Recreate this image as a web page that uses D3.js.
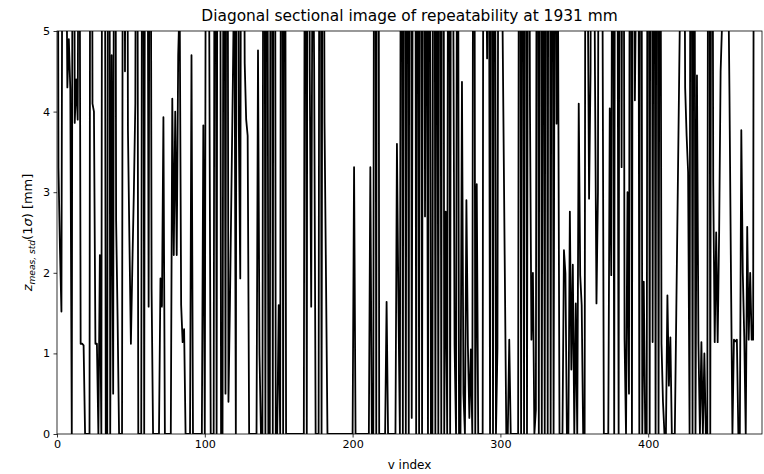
<!DOCTYPE html>
<html>
<head>
<meta charset="utf-8">
<script src="https://cdn.jsdelivr.net/npm/d3@7"></script>
<style>
  body { margin: 0; background: #fff; }
  svg { display: block; }
  text { font-family: "DejaVu Sans", sans-serif; fill: #000; }
</style>
</head>
<body>
<svg id="chart" width="764" height="474"></svg>
<script>
// Chart text and ticks
const chartTitle = "Diagonal sectional image of repeatability at 1931 mm";
const xLabel = "v index";
const xTicks = [0, 100, 200, 300, 400];
const yTicks = [0, 1, 2, 3, 4, 5];
const xMax = 477;
const yMax = 5;

// Standard deviation of measured z per v index [mm]; values above 5 run off the top
const zStd = [
  12, 3.3, 2.3, 1.52, 10, 18, 7, 4.3, 4.9, 4.28,
  0, 15, 3.86, 4.4, 3.9, 9, 1.12, 1.12, 1.1, 0,
  0, 0, 0, 16, 4.1, 4.0, 1.12, 1.12, 0, 2.22,
  0, 14, 12, 0, 0, 15, 0, 4.7, 0.5, 13,
  2.65, 1.43, 0, 0, 0, 14, 4.5, 12, 3.77, 2.4,
  1.12, 2.1, 3.0, 4.1, 12, 0, 0, 0, 13, 0,
  14, 9, 1.58, 11, 1.8, 0, 0, 0, 0, 0,
  1.93, 1.58, 3.93, 0, 0, 0, 0, 0, 4.16, 2.22,
  4.0, 2.22, 4.7, 5.4, 1.6, 1.14, 1.3, 0, 0, 0,
  0, 4.7, 0, 0, 0, 0, 0, 0, 0, 3.83,
  0, 10, 5.2, 5.1, 0, 0, 0, 12, 0, 14,
  13, 0, 0, 11, 0.5, 13, 0.4, 1.6, 3.0, 4.4,
  6, 0, 15, 3.83, 1.93, 12, 9, 4.6, 3.9, 3.7,
  0, 0, 0, 0, 0, 0, 4.76, 1.0, 0, 0,
  13, 0, 12, 0, 0, 15, 0, 17, 0, 0,
  1.6, 0, 14, 0, 12, 0, 0, 0, 0, 0,
  0, 0, 0, 0, 0, 0, 0, 0, 11, 0,
  16, 4.53, 1.58, 7, 4.53, 0, 0, 0, 15, 0,
  12, 3.87, 1.95, 0, 0, 0, 0, 0, 0, 0,
  0, 0, 0, 0, 0, 0, 0, 0, 0, 0,
  0, 3.31, 0, 0, 0, 0, 0, 0, 0, 0,
  0, 0, 3.31, 0, 0, 14, 0, 20, 0, 0,
  0, 0, 0, 1.64, 0, 0, 0, 0, 0, 0,
  3.6, 1.62, 0, 12, 0, 15, 0, 12, 0, 18,
  0.2, 9, 14, 0, 11, 0, 16, 0, 13, 2.7,
  8, 0, 12, 0, 0, 15, 0, 10, 0, 14,
  0, 18, 0, 2.76, 0, 12, 0, 14, 6, 1.1,
  0, 11, 0, 0, 4.37, 0.5, 0, 2.9, 1.1, 0.2,
  1.05, 0, 13, 0, 3.1, 0, 0, 0, 0, 16,
  7, 4.66, 9, 0, 14, 0, 12, 0, 1.06, 11,
  8, 6, 4.0, 2.0, 0, 0, 1.17, 0, 0, 0,
  0, 0, 0, 14, 0, 12, 0, 15, 0, 11,
  4.08, 1.17, 2.0, 0, 0.3, 13, 0, 16, 0, 10,
  0, 14, 0, 18, 0, 12, 0, 9, 3.85, 5.3,
  0, 0, 0, 2.28, 1.99, 0, 0, 2.76, 0.8, 2.1,
  0, 1.62, 0, 4.1, 1.97, 1.6, 0, 0, 14, 6,
  2.92, 4.5, 13, 8, 4.45, 1.62, 3.0, 13, 9, 6,
  0, 0, 0, 0, 4.04, 1.97, 10, 0, 15, 8,
  0, 14, 3.31, 12, 1.19, 0, 3.0, 0.5, 13, 0,
  14, 4.14, 6, 12, 0, 15, 0, 1.89, 0, 0,
  14, 0, 16, 1.14, 11, 0, 13, 0, 10, 1.12,
  0.4, 0, 0, 1.72, 0.6, 1.2, 0, 0, 0, 1.5,
  3.0, 4.5, 6, 7, 9, 4.3, 3.7, 3.25, 0, 13,
  0, 11, 0, 4.45, 1.12, 0, 1.14, 0, 1.0, 0,
  0, 14, 0, 12, 3.13, 1.14, 2.5, 1.14, 2.5, 4.5,
  5.1, 5.2, 8, 10, 6, 4.2, 2.0, 0, 1.17, 1.15,
  1.17, 0, 0, 3.77, 2.0, 1.2, 0, 2.57, 1.17, 2.0,
  1.17, 1.17, 15, 14, 16, 13, 15, 14
];

const svg = d3.select("#chart");
const W = 764, H = 474;
const m = { left: 57, right: 2, top: 31, bottom: 40 };
const pw = W - m.left - m.right;
const ph = H - m.top - m.bottom;

const x = d3.scaleLinear().domain([0, xMax]).range([0, pw]);
const y = d3.scaleLinear().domain([0, yMax]).range([ph, 0]);

const g = svg.append("g").attr("transform", `translate(${m.left},${m.top})`);

g.append("clipPath").attr("id", "plot-clip")
  .append("rect").attr("width", pw).attr("height", ph);

const line = d3.line()
  .x((d, i) => x(i))
  .y(d => y(d));

g.append("path")
  .datum(zStd)
  .attr("clip-path", "url(#plot-clip)")
  .attr("fill", "none")
  .attr("stroke", "#000")
  .attr("stroke-width", 1.8)
  .attr("stroke-linejoin", "round")
  .attr("d", line);

// Axes
const xAxis = g.append("g")
  .attr("transform", `translate(0,${ph})`)
  .call(d3.axisBottom(x).tickValues(xTicks).tickFormat(d3.format("d"))
    .tickSize(3.5).tickPadding(2.5));
const yAxis = g.append("g")
  .call(d3.axisLeft(y).tickValues(yTicks).tickFormat(d3.format("d"))
    .tickSize(3.5).tickPadding(3.5));

[xAxis, yAxis].forEach(a => {
  a.select(".domain").remove();
  a.selectAll(".tick line").attr("stroke", "#000").attr("stroke-width", 0.8);
  a.selectAll(".tick text").attr("font-size", "11.2px").attr("fill", "#000")
    .attr("font-family", "DejaVu Sans, sans-serif");
});

// Frame
g.append("rect")
  .attr("width", pw).attr("height", ph)
  .attr("fill", "none").attr("stroke", "#000").attr("stroke-width", 0.8);

// Title
svg.append("text")
  .attr("x", m.left + pw / 2).attr("y", 21)
  .attr("text-anchor", "middle")
  .attr("font-size", "15.4px")
  .text(chartTitle);

// X label
svg.append("text")
  .attr("x", m.left + pw / 2).attr("y", 469)
  .attr("text-anchor", "middle")
  .attr("font-size", "12px")
  .text(xLabel);

// Y label: z_{meas, std}(1σ) [mm]
const yl = svg.append("text")
  .attr("transform", `translate(32,${m.top + ph / 2}) rotate(-90)`)
  .attr("text-anchor", "middle")
  .attr("font-size", "13px");
yl.append("tspan").attr("font-style", "italic").text("z");
yl.append("tspan").attr("font-style", "italic").attr("font-size", "9.1px")
  .attr("dy", "3").text("meas, std");
yl.append("tspan").attr("dy", "-3").text("(1");
yl.append("tspan").attr("font-style", "italic").text("σ");
yl.append("tspan").text(") [mm]");
</script>
</body>
</html>
